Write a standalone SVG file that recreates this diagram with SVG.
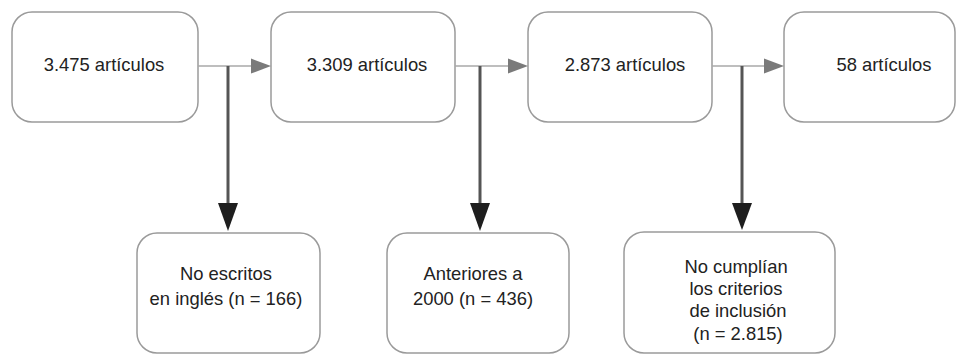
<svg xmlns="http://www.w3.org/2000/svg" width="957" height="355" viewBox="0 0 957 355">
<style>
.box{fill:#fff;stroke:#9a9a9a;stroke-width:1.5}
.t{font-family:"Liberation Sans",Arial,sans-serif;font-size:18.4px;fill:#222;text-anchor:middle}
.h{stroke:#a8a8a8;stroke-width:1.5;fill:none}
.v{stroke:#555;stroke-width:3;fill:none}
.ha{fill:#7a7a7a}
.va{fill:#1e1e1e}
</style>
<rect width="957" height="355" fill="#fff"/>
<g id="n1"><rect class="box" x="12" y="12" width="186" height="110" rx="20"/><text class="t" x="104" y="71">3.475 artículos</text></g>
<g id="n2"><rect class="box" x="271" y="12" width="184" height="110" rx="20"/><text class="t" x="367" y="71">3.309 artículos</text></g>
<g id="n3"><rect class="box" x="528" y="12" width="184" height="110" rx="20"/><text class="t" x="625" y="71">2.873 artículos</text></g>
<g id="n4"><rect class="box" x="784" y="12" width="171" height="110" rx="20"/><text class="t" x="884" y="71">58 artículos</text></g>
<g id="n5"><rect class="box" x="137" y="233" width="183" height="120" rx="20"/><text class="t" x="226" y="280">No escritos</text><text class="t" x="226" y="305">en inglés (n = 166)</text></g>
<g id="n6"><rect class="box" x="387" y="233" width="182" height="120" rx="20"/><text class="t" x="473" y="280">Anteriores a</text><text class="t" x="473" y="305">2000 (n = 436)</text></g>
<g id="n7"><rect class="box" x="624" y="232" width="211" height="121" rx="20"/><text class="t" x="736" y="273">No cumplían</text><text class="t" x="736" y="295">los criterios</text><text class="t" x="738" y="317">de inclusión</text><text class="t" x="738" y="340">(n = 2.815)</text></g>
<g id="connectors">
<path class="h" d="M198 66H252"/><polygon class="ha" points="251,58.5 271,66 251,73.5"/>
<path class="h" d="M455 66H509"/><polygon class="ha" points="508,58.5 528,66 508,73.5"/>
<path class="h" d="M712 66H765"/><polygon class="ha" points="764,58.5 784,66 764,73.5"/>
<path class="v" d="M228 66V205"/><polygon class="va" points="218,203 238,203 228,231"/>
<path class="v" d="M480 66V205"/><polygon class="va" points="470,203 490,203 480,231"/>
<path class="v" d="M742 66V205"/><polygon class="va" points="732,203 752,203 742,230"/>
</g>
</svg>
